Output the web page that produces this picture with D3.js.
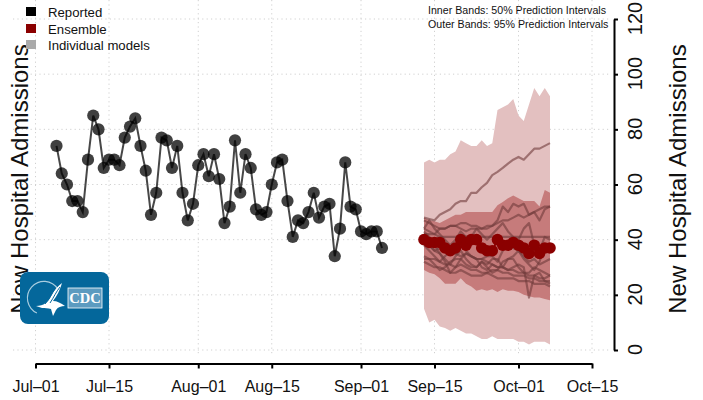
<!DOCTYPE html>
<html><head><meta charset="utf-8">
<script src="https://cdn.jsdelivr.net/npm/d3@7"></script>
<style>html,body{margin:0;padding:0;background:#fff}svg{display:block}text{font-family:"Liberation Sans",Arial,sans-serif;fill:#111}</style>
</head><body><svg id="c" width="703" height="400"></svg>
<script>
const tickDates = ["2021-07-01","2021-07-15","2021-08-01","2021-08-15","2021-09-01","2021-09-15","2021-10-01","2021-10-15"];
const tickLabels = ["Jul–01","Jul–15","Aug–01","Aug–15","Sep–01","Sep–15","Oct–01","Oct–15"];
const yTicks = [0,20,40,60,80,100,120];
const reportedStart = "2021-07-05";
const reported = [74,64,60,54,54,50,69,85,80,66,69,69,67,77,81,84,74,65,49,57,77,76,66,74,57,47,53,67,71,63,71,62,46,52,76,57,71,66,51,49,50,60,68,69,54,41,47,46,50,57,48,52,53,34,44,68,52,51,43,42,43,43,37];
const forecastStart = "2021-09-13";
const ensemble = [40,39,39,39,37,36,37,40,38,40,40,37,36,36,40,38,38,39,38,37,35,38,35,37,37];
const outerUpper = [68,69,68,69,69,71,72,76,75,74,74,76,74,75,87,88,89,91,85,83,89,95,92,95,92];
const outerLower = [15,10,11,8.5,8,7,8,7,6,6,5,4,4,5,4,4,4,4,3,3,2,3,3,3,2];
const innerUpper = [48,47,46.7,46,47,48,49,49,50,50,50,50,50,50,52.5,53.7,55,56,55,54,54,54,52,58,57];
const innerLower = [29,28,27.5,26,24,24,24,26,24,23,21.5,22,21.5,22,21,22,21.5,21.5,21,20,19.5,19,19,18.5,18];
const modelHigh = [48,47.5,47,49,50,51,53,54,54,57,57,59,60.6,63.4,64.6,66,67.6,69,70,69,71,73,73,74,75];
const modelA = [47,46,45,44,44,45,45,46,46,45,45,44,44,45,47,52,50,53,52,53,49,50,47,51,52];
const modelB = [44,43,42,44,44,45,45,44,43,44,44,44,45,45,46,47,47,48,49,48,49,50,51,52,52];
const modelC = [42,42,42,41,41,41,41,41,41,41,41,41,41,41,41,41,41,41,41,41,41,41,41,41,41];
const modelD = [44,47,44,42,40,38,40,43,41,41,44,42,40,42,44,46,43,41,40,44,46,38,36,41,40];
const modelE = [40,38,36,35,32,28,30,33,35,34,33,33,34,34,32,36,38,37,36,34,32,33,31,32,33];
const modelF = [43,41,38,35,33,31,34,36,33,31,30,32,30,28,29,32,33,33,30,28,28,30,29,28,27];
const modelG = [33,33,33,32,31,31,30,31,30,29,29,28,28,29,29,28,28,27,27,27,26,26,25,25,25];
const modelH = [32,31,30,30,29,28,28,29,28,27,27,27,28,27,26,26,26,26,25,25,25,24,24,24,23];
const modelI = [34,33,31,29,30,32,33,33,31,30,30,32,31,33,33,30,29,30,31,30,19,27,28,25,24];
const modelJ = [38,36,34,32,34,36,35,38,36,34,33,30,29,31,30,30,33,34,36,33,31,29,32,38,36];
const modelK = [38,38,36,37,36,35,35,34,35,34,33,33,32,31,30,30,29,29,28,28,27,27,26,26,27];
const models = [modelHigh,modelA,modelB,modelC,modelD,modelE,modelF,modelG,modelH,modelI,modelJ,modelK];
const legendLabels = ["Reported","Ensemble","Individual models"];
const legendColors = ["#000000","#8b0000","#aaaaaa"];
const noteLines = ["Inner Bands: 50% Prediction Intervals","Outer Bands: 95% Prediction Intervals"];
const yTitle = "New Hospital Admissions";

const parse = d3.utcParse("%Y-%m-%d");
const svg = d3.select("#c");
const x = d3.scaleUtc().domain([parse(tickDates[0]), parse(tickDates[7])]).range([35.5,592]);
const y = d3.scaleLinear().domain([0,120]).range([350,19]);
const dayAt = (s,i)=>d3.utcDay.offset(parse(s),i);
const fx = i=>x(dayAt(forecastStart,i));
const rx = i=>x(dayAt(reportedStart,i));

// grid
const grid = svg.append("g").attr("stroke","#d0d0d0").attr("stroke-width",1).attr("stroke-dasharray","1.2 3.2");
grid.selectAll("line.v").data(tickDates).join("line").attr("class","v")
  .attr("x1",d=>x(parse(d))).attr("x2",d=>x(parse(d))).attr("y1",0).attr("y2",354);
grid.selectAll("line.h").data(yTicks).join("line").attr("class","h")
  .attr("x1",13).attr("x2",610).attr("y1",d=>y(d)).attr("y2",d=>y(d));

// y titles
[28,686].forEach(bx=>{
  svg.append("text").attr("transform",`translate(${bx},179) rotate(-90)`).attr("text-anchor","middle")
    .attr("font-size",24).text(yTitle);
});

// bands
const area = (up,lo)=>d3.area().x((d,i)=>fx(i)).y1((d,i)=>y(up[i])).y0((d,i)=>y(lo[i]))(up);
svg.append("path").attr("d",area(outerUpper,outerLower)).attr("fill","#e3c0c0");
svg.append("path").attr("d",area(innerUpper,innerLower)).attr("fill","#c67b7b");
// models
const line = d3.line().x((d,i)=>fx(i)).y(d=>y(d));
svg.append("g").selectAll("path").data(models).join("path").attr("d",line)
  .attr("fill","none").attr("stroke","#703a3a").attr("stroke-opacity",0.6).attr("stroke-width",2.2).attr("stroke-linejoin","round");
// reported
const rline = d3.line().x((d,i)=>rx(i)).y(d=>y(d));
svg.append("path").datum(reported).attr("d",rline).attr("fill","none").attr("stroke","#000").attr("stroke-opacity",.72).attr("stroke-width",2);
svg.append("g").selectAll("circle").data(reported).join("circle").attr("cx",(d,i)=>rx(i)).attr("cy",d=>y(d)).attr("r",6.1).attr("fill","#000").attr("fill-opacity",.75);
// ensemble
svg.append("path").datum(ensemble).attr("d",line).attr("fill","none").attr("stroke","#8b0000").attr("stroke-width",2);
svg.append("g").selectAll("circle").data(ensemble).join("circle").attr("cx",(d,i)=>fx(i)).attr("cy",d=>y(d)).attr("r",5.8).attr("fill","#8b0000");

// axes
const xAxis = d3.axisBottom(x).tickValues(tickDates.map(parse)).tickSize(5).tickSizeOuter(0).tickFormat((d,i)=>tickLabels[i]);
const gx = svg.append("g").attr("transform","translate(0,363.5)").call(xAxis);
gx.select(".domain").attr("stroke","#000").attr("stroke-width",2);
gx.selectAll(".tick line").attr("stroke","#000").attr("stroke-width",2);
gx.selectAll(".tick text").attr("y",28.5).attr("dy",0).attr("font-size",16).attr("fill","#111").attr("font-family",'"Liberation Sans"');
const yAxis = d3.axisRight(y).tickValues(yTicks).tickSize(4).tickSizeOuter(0);
const gy = svg.append("g").attr("transform","translate(614,0)").call(yAxis);
gy.select(".domain").attr("stroke","#000").attr("stroke-width",2);
gy.selectAll(".tick line").attr("stroke","#000").attr("stroke-width",2);
gy.selectAll(".tick text").attr("x",0).attr("y",0).attr("dy",0).attr("text-anchor","middle")
  .attr("transform","translate(28,-1) rotate(-90)").attr("font-size",20).attr("fill","#111").attr("font-family",'"Liberation Sans"');

// legend
const legY=[7,24,40], legB=[17,33.5,50];
legendLabels.forEach((l,i)=>{
  svg.append("rect").attr("x",26).attr("y",legY[i]).attr("width",10).attr("height",9).attr("fill",legendColors[i]);
  svg.append("text").attr("x",48).attr("y",legB[i]).attr("font-size",13.2).text(l);
});
noteLines.forEach((l,i)=>svg.append("text").attr("x",428).attr("y",14+i*14).attr("font-size",10.65).text(l));

// logo
const logo = svg.append("g").attr("transform","translate(20,272)");
logo.append("rect").attr("width",89).attr("height",52).attr("rx",8).attr("fill","#04679b");
logo.append("path").attr("d",d3.arc()({innerRadius:16,outerRadius:17.2,startAngle:-2.7,endAngle:1.0})).attr("transform","translate(24,26)").attr("fill","#a9cde0");
logo.append("path").attr("d","M22 36 L16 34 C24 34 28 30 31 24 C34 18 38 14 42 11 C40 18 37 24 33 29 C37 29 41 31 45 34 C41 34 38 35 36 38 L33 44 L31 37 C28 36 25 36 22 36 Z").attr("fill","#fff");
logo.append("path").attr("d","M30 31 C34 25 36 20 40 15 M25 32 C30 27 32 21 35 17").attr("stroke","#04679b").attr("stroke-width",1).attr("fill","none");
logo.append("rect").attr("x",48).attr("y",16).attr("width",34).attr("height",20).attr("fill","#5c9bc0").attr("stroke","#fff").attr("stroke-width",.8);
logo.append("text").attr("x",65).attr("y",31).attr("text-anchor","middle").attr("font-size",14.5).attr("font-weight","bold").style("font-family",'"Liberation Serif"').style("fill","#fff").text("CDC");
</script></body></html>
